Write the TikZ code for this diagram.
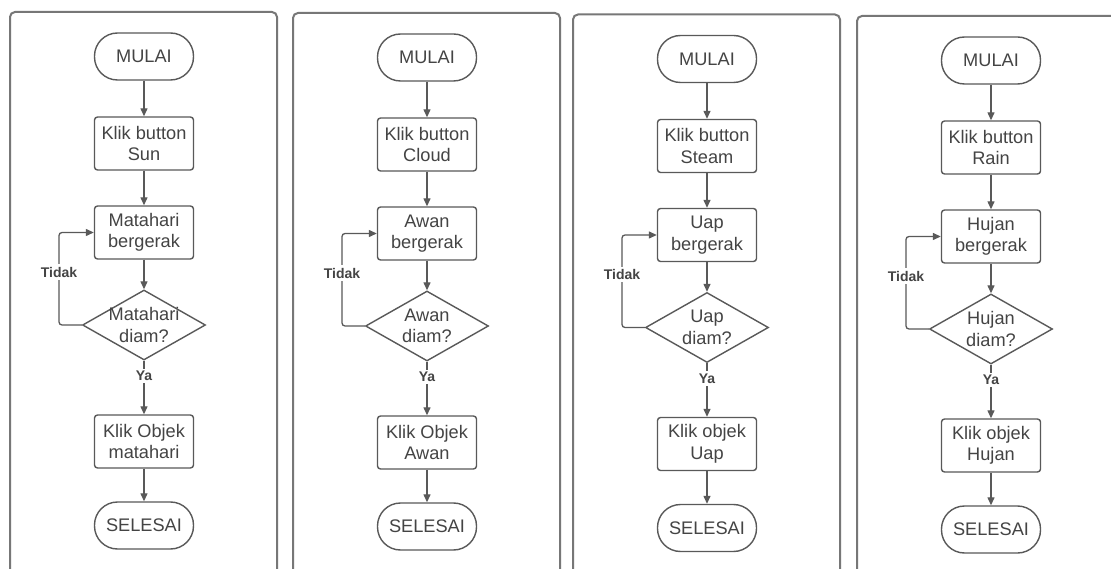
\documentclass[tikz,border=0pt]{standalone}
\usepackage{fontspec}
\setmainfont{Liberation Sans}
\usetikzlibrary{shapes.geometric,arrows.meta}
\definecolor{garis}{HTML}{595959}
\definecolor{tepi}{HTML}{777777}
\definecolor{teks}{HTML}{444444}

\begin{document}
\begin{tikzpicture}[x=1pt,y=-1pt,
    every node/.style={text=teks,font=\fontsize{18.2}{21.5}\selectfont,align=center},
    terminal/.style={draw=garis,line width=1.4pt,rounded corners=23pt,minimum width=99pt,minimum height=47pt,inner sep=0pt},
    proses/.style={draw=garis,line width=1.4pt,rounded corners=3pt,minimum width=99pt,minimum height=53pt,inner sep=0pt},
    keputusan/.style={diamond,draw=garis,line width=1.4pt,minimum width=123pt,minimum height=70pt,inner sep=0pt},
    ket/.style={font=\bfseries\fontsize{14}{16}\selectfont,fill=white,inner sep=2.5pt},
    panah/.style={draw=garis,line width=1.3pt,-{Triangle[length=8pt,width=7pt]}},
    bingkai/.style={draw=tepi,line width=2pt,rounded corners=5pt}]
  \clip (0,0) rectangle (1111,569);
  \fill[white] (0,0) rectangle (1111,569);
  \foreach \i/\cx/\dy/\btn/\sub/\ob/\nama in {
      1/144/0/Sun/Matahari/Objek/matahari,
      2/427/1/Cloud/Awan/Objek/Awan,
      3/707/2.5/Steam/Uap/objek/Uap,
      4/991/4/Rain/Hujan/objek/Hujan}{
    % bingkai panel
    \draw[bingkai] ({\cx-134},{12+\dy}) rectangle ({\cx+133},620);
    % simpul
    \node[terminal] (mulai\i) at (\cx,{56.5+\dy}) {MULAI};
    \node[proses] (tombol\i) at (\cx,{143.5+\dy}) {Klik button\\\btn};
    \node[proses] (gerak\i) at (\cx,{232.5+\dy}) {\sub\\bergerak};
    \node[keputusan] (diam\i) at (\cx,{325+\dy}) {};
    \node (diamteks\i) at (diam\i) {\sub\\diam?};
    \node[proses] (objek\i) at (\cx,{441.5+\dy}) {Klik \ob\\\nama};
    \node[terminal] (selesai\i) at (\cx,{525.5+\dy}) {SELESAI};
    \coordinate (belok\i) at ({\cx-85},{272+\dy});
    % panah
    \draw[panah] (mulai\i) -- (tombol\i);
    \draw[panah] (tombol\i) -- (gerak\i);
    \draw[panah] (gerak\i) -- (diam\i);
    \draw[panah] (diam\i) -- (objek\i);
    \draw[panah] (objek\i) -- (selesai\i);
    \draw[panah,rounded corners=3pt] (diam\i.west) -| (belok\i) |- (gerak\i.west);
    \node[ket] (tidak\i) at (belok\i) {Tidak};
    \node[ket] (ya\i) at (\cx,{376+\dy}) {Ya};
  }
\end{tikzpicture}
\end{document}
